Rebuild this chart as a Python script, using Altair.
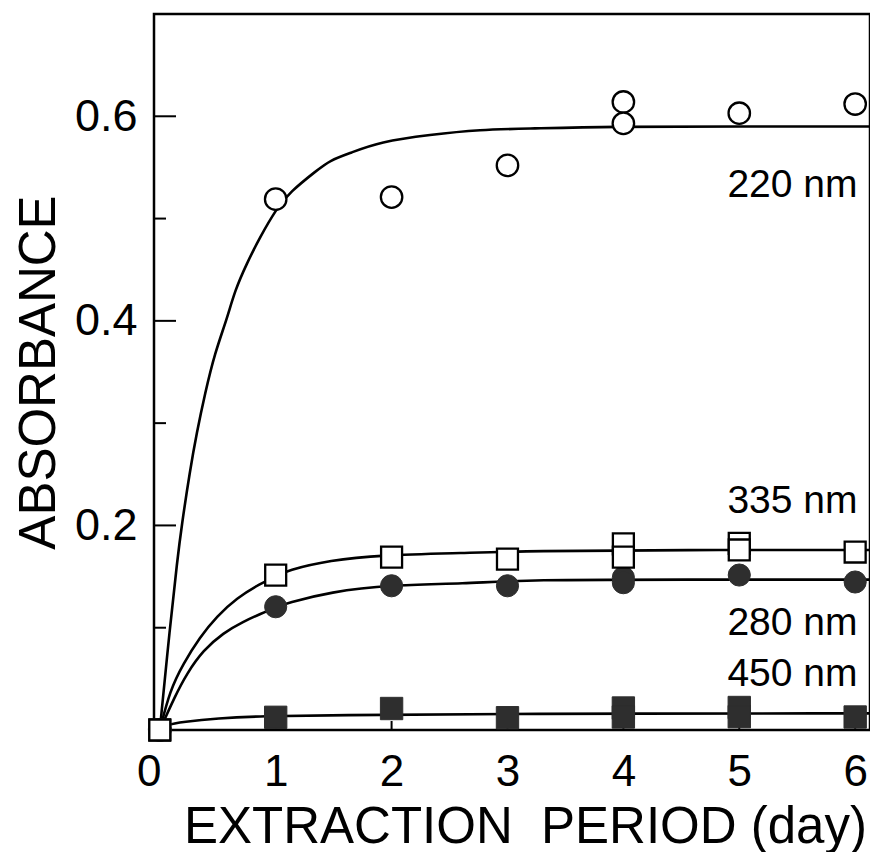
import altair as alt
import pandas as pd

# ---- measured data points (day, absorbance) ----
s220_x = [0, 1, 2, 3, 4, 4, 5, 6]
s220_y = [0, 0.519, 0.521, 0.552, 0.614, 0.593, 0.603, 0.612]

s335_x = [0, 1, 2, 3, 4, 4, 5, 5, 6]
s335_y = [0, 0.1515, 0.169, 0.167, 0.182, 0.169, 0.1825, 0.176, 0.174]

s280_x = [0, 1, 2, 3, 4, 4, 5, 6]
s280_y = [0, 0.1205, 0.141, 0.141, 0.149, 0.144, 0.1515, 0.1447]

s450_x = [0, 1, 2, 3, 4, 4, 5, 5, 6]
s450_y = [0, 0.0124, 0.021, 0.012, 0.0215, 0.0127, 0.022, 0.013, 0.0127]

# ---- fitted curves ----
c220_x = [0, 0.088, 0.151, 0.189, 0.261, 0.318, 0.390, 0.476, 0.577, 0.649, 0.750,
          0.865, 1.009, 1.123, 1.354, 1.469, 1.641, 1.900, 2.331, 2.763, 3.194, 3.884, 5.0, 6.17]
c220_y = [0, 0.101, 0.166, 0.200, 0.254, 0.290, 0.329, 0.369, 0.401, 0.430, 0.456,
          0.482, 0.510, 0.526, 0.547, 0.557, 0.564, 0.575, 0.582, 0.587, 0.588, 0.590, 0.590, 0.590]

c335_x = [0, 0.088, 0.203, 0.347, 0.491, 0.663, 0.865, 1.0, 1.095, 1.47, 1.90, 2.62, 3.19, 4.5, 6.17]
c335_y = [0, 0.039, 0.065, 0.091, 0.111, 0.129, 0.143, 0.150, 0.156, 0.166, 0.171, 0.173, 0.175, 0.176, 0.176]

c280_x = [0, 0.131, 0.232, 0.375, 0.548, 0.720, 0.879, 1.0, 1.095, 1.468, 1.99, 2.62, 3.19, 4.5, 6.17]
c280_y = [0, 0.033, 0.055, 0.078, 0.095, 0.106, 0.114, 0.120, 0.124, 0.135, 0.142, 0.143, 0.147, 0.147, 0.147]

c450_x = [0, 0.05, 0.203, 0.491, 0.893, 1.469, 3.0, 6.17]
c450_y = [0, 0.005, 0.008, 0.0114, 0.0137, 0.0144, 0.016, 0.0163]

# ---- annotations ----
lab_text = ["220 nm", "335 nm", "280 nm", "450 nm"]
lab_x = [6.02, 6.02, 6.02, 6.02]
lab_y = [0.521, 0.212, 0.093, 0.043]

y_major = [0.2, 0.4, 0.6]
y_minor = [0.1, 0.3, 0.5]
x_ticks = [0, 1, 2, 3, 4, 5, 6]

FONT = "Liberation Sans"
xs = alt.Scale(domain=[-0.05, 6.128], nice=False, zero=False)
ys = alt.Scale(domain=[0, 0.70], nice=False, zero=False)

x_axis = alt.Axis(
    values=x_ticks, format="d", ticks=False, tickSize=0, domain=False, grid=False,
    labelFont=FONT, labelFontSize=44, labelPadding=20, labelColor="black",
    labelOffset={"condition": {"test": "datum.value == 0", "value": -11}, "value": 0},
    title="EXTRACTION\u00a0 PERIOD (day)", titleFont=FONT, titleFontSize=51,
    titleFontWeight="normal", titleColor="black", titleX=371, titleY=112,
    titleAlign="center", titleBaseline="alphabetic",
)
y_axis = alt.Axis(
    values=y_major, format=".1f", ticks=False, tickSize=0, domain=False, grid=False,
    labelFont=FONT, labelFontSize=45, labelPadding=17, labelColor="black",
    title="ABSORBANCE", titleFont=FONT, titleFontSize=51, titleFontWeight="normal",
    titleColor="black", titleAngle=270, titleX=-100, titleY=358,
    titleAlign="center", titleBaseline="alphabetic",
)

X = alt.X("x:Q", scale=xs, axis=x_axis)
Y = alt.Y("y:Q", scale=ys, axis=y_axis)


def df(x, y):
    return pd.DataFrame({"x": x, "y": y})


def curve(x, y):
    return alt.Chart(df(x, y)).mark_line(
        color="black", strokeWidth=2.6, interpolate="basis", clip=True
    ).encode(x=X, y=Y)


def points(x, y, shape, filled, size):
    if filled:
        m = alt.Chart(df(x, y)).mark_point(shape=shape, filled=True, fill="#2e2e2e",
                                           stroke="#2e2e2e", strokeWidth=1, size=size, opacity=1)
    else:
        m = alt.Chart(df(x, y)).mark_point(shape=shape, filled=False, fill="white",
                                           fillOpacity=1, stroke="black", strokeWidth=2.3,
                                           size=size, opacity=1)
    return m.encode(x=X, y=Y)


ymaj_rule = alt.Chart(pd.DataFrame({"y": y_major})).mark_rule(color="black", strokeWidth=2).encode(
    y=Y, x=alt.value(0), x2=alt.value(22))
ymin_rule = alt.Chart(pd.DataFrame({"y": y_minor})).mark_rule(color="black", strokeWidth=2).encode(
    y=Y, x=alt.value(0), x2=alt.value(12))
xtick_rule = alt.Chart(pd.DataFrame({"x": x_ticks})).mark_rule(color="black", strokeWidth=2).encode(
    x=X, y=alt.value(716), y2=alt.value(707))

labels = alt.Chart(pd.DataFrame({"x": lab_x, "y": lab_y, "t": lab_text})).mark_text(
    align="right", baseline="alphabetic", font=FONT, fontSize=39, color="black"
).encode(x=X, y=Y, text="t:N")

chart = alt.layer(
    curve(c220_x, c220_y),
    curve(c335_x, c335_y),
    curve(c280_x, c280_y),
    curve(c450_x, c450_y),
    ymaj_rule, ymin_rule, xtick_rule,
    points(s220_x, s220_y, "circle", False, 460),
    points(s450_x, s450_y, "square", True, 500),
    points(s280_x, s280_y, "circle", True, 490),
    points(s335_x, s335_y, "square", False, 440),
    labels,
).properties(
    width=716, height=716,
    padding={"left": 146, "top": 6, "right": 0, "bottom": 122},
    autosize="none",
).configure(background="white").configure_view(stroke="black", strokeWidth=2.5)

chart.save("out.html", embed_options={"renderer": "svg", "actions": False})
